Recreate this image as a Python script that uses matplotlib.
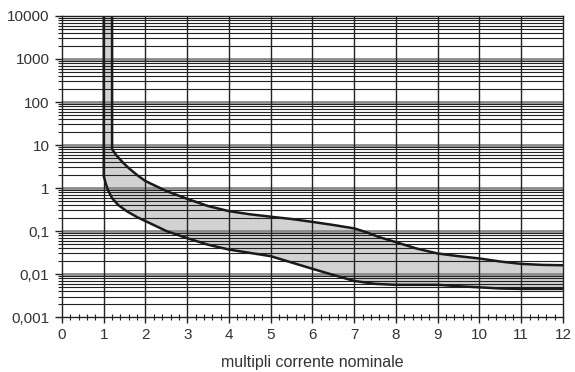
from matplotlib import pyplot as plt
import numpy

# upper boundary of the band (vertical at 1.2 then decreasing)
up_x = [1.2, 1.2, 1.3, 1.45, 1.6, 1.8, 2.0, 2.5, 3.0, 3.5, 4.0, 4.5, 5.0, 5.5, 6.0, 6.5, 7.0,
        7.3, 7.6, 8.0, 8.5, 9.0, 9.5, 10.0, 10.5, 11.0, 11.5, 12.0]
up_y = [10000, 8.0, 5.8, 4.0, 2.9, 2.0, 1.45, 0.85, 0.56, 0.38, 0.29, 0.245, 0.215, 0.19, 0.163, 0.138, 0.115,
        0.093, 0.072, 0.055, 0.039, 0.030, 0.026, 0.023, 0.0195, 0.0172, 0.0163, 0.016]
# lower boundary of the band (vertical at 1.0 then decreasing)
lo_x = [1.0, 1.0, 1.05, 1.1, 1.2, 1.35, 1.55, 1.8, 2.0, 2.5, 3.0, 3.5, 4.0, 4.5, 5.0, 5.5, 6.0, 6.5,
        7.0, 7.5, 8.0, 9.0, 9.5, 10.0, 10.5, 11.0, 12.0]
lo_y = [10000, 1.9, 1.25, 0.9, 0.58, 0.4, 0.29, 0.21, 0.17, 0.1, 0.068, 0.048, 0.037, 0.031, 0.026, 0.0185, 0.0132, 0.0095,
        0.0069, 0.0059, 0.0056, 0.0056, 0.0052, 0.0049, 0.0046, 0.0045, 0.0045]

decades = [0.001, 0.01, 0.1, 1, 10, 100, 1000, 10000]
decade_labels = ['0,001', '0,01', '0,1', '1', '10', '100', '1000', '10000']
x_ticks = list(range(0, 13))

plt.rcParams['font.family'] = ['Liberation Sans', 'DejaVu Sans']

fig = plt.figure(figsize=(5.75, 3.72), dpi=100)
ax = fig.add_axes([0.1078, 0.1478, 0.8713, 0.8092])
ax.set_yscale('log')
ax.set_xlim(0, 12)
ax.set_ylim(0.001, 10000)

# horizontal grid: minor lines black-ish, decades grey and thicker
minors = []
for d in decades[:-1]:
    for k in range(2, 10):
        minors.append(d * k)
for m in minors:
    ax.axhline(m, color='#222222', lw=0.8, zorder=1)
for d in decades[1:-1]:
    ax.axhline(d, color='#8a8a8a', lw=2.0, zorder=1)
for x in x_ticks[1:-1]:
    ax.axvline(x, color='#222222', lw=1.0, zorder=1)

# band polygon, drawn under the grid
poly_x = lo_x + up_x[::-1]
poly_y = lo_y + up_y[::-1]
ax.fill(poly_x, poly_y, color='#d2d2d2', zorder=0.5, lw=0)
ax.plot(up_x, up_y, color='#1a1a1a', lw=1.8, zorder=3)
ax.plot(lo_x, lo_y, color='#1a1a1a', lw=1.8, zorder=3)

ax.set_yticks(decades)
ax.set_yticklabels(decade_labels)
ax.set_yticks(minors, minor=True)
ax.set_xticks(x_ticks)
ax.set_xticks([v for v in numpy.arange(0, 12.01, 0.2) if abs(v - round(v)) > 0.01], minor=True)
ax.tick_params(axis='y', which='major', direction='out', length=5, width=1, colors='#222222',
               labelsize=11, labelcolor='#333333', pad=4)
ax.tick_params(axis='y', which='minor', direction='out', length=3, width=0.8, colors='#222222')
ax.tick_params(axis='x', which='major', direction='out', length=4, width=1, colors='#222222',
               labelsize=11, labelcolor='#333333', pad=4)
ax.tick_params(axis='x', which='minor', direction='inout', length=5, width=0.8, colors='#222222')

for s in ax.spines.values():
    s.set_color('#222222')
    s.set_linewidth(1.0)
    s.set_zorder(4)

ax.set_xlabel('multipli corrente nominale', fontsize=11.5, color='#333333', labelpad=9)

plt.savefig('out.png', dpi=100)
